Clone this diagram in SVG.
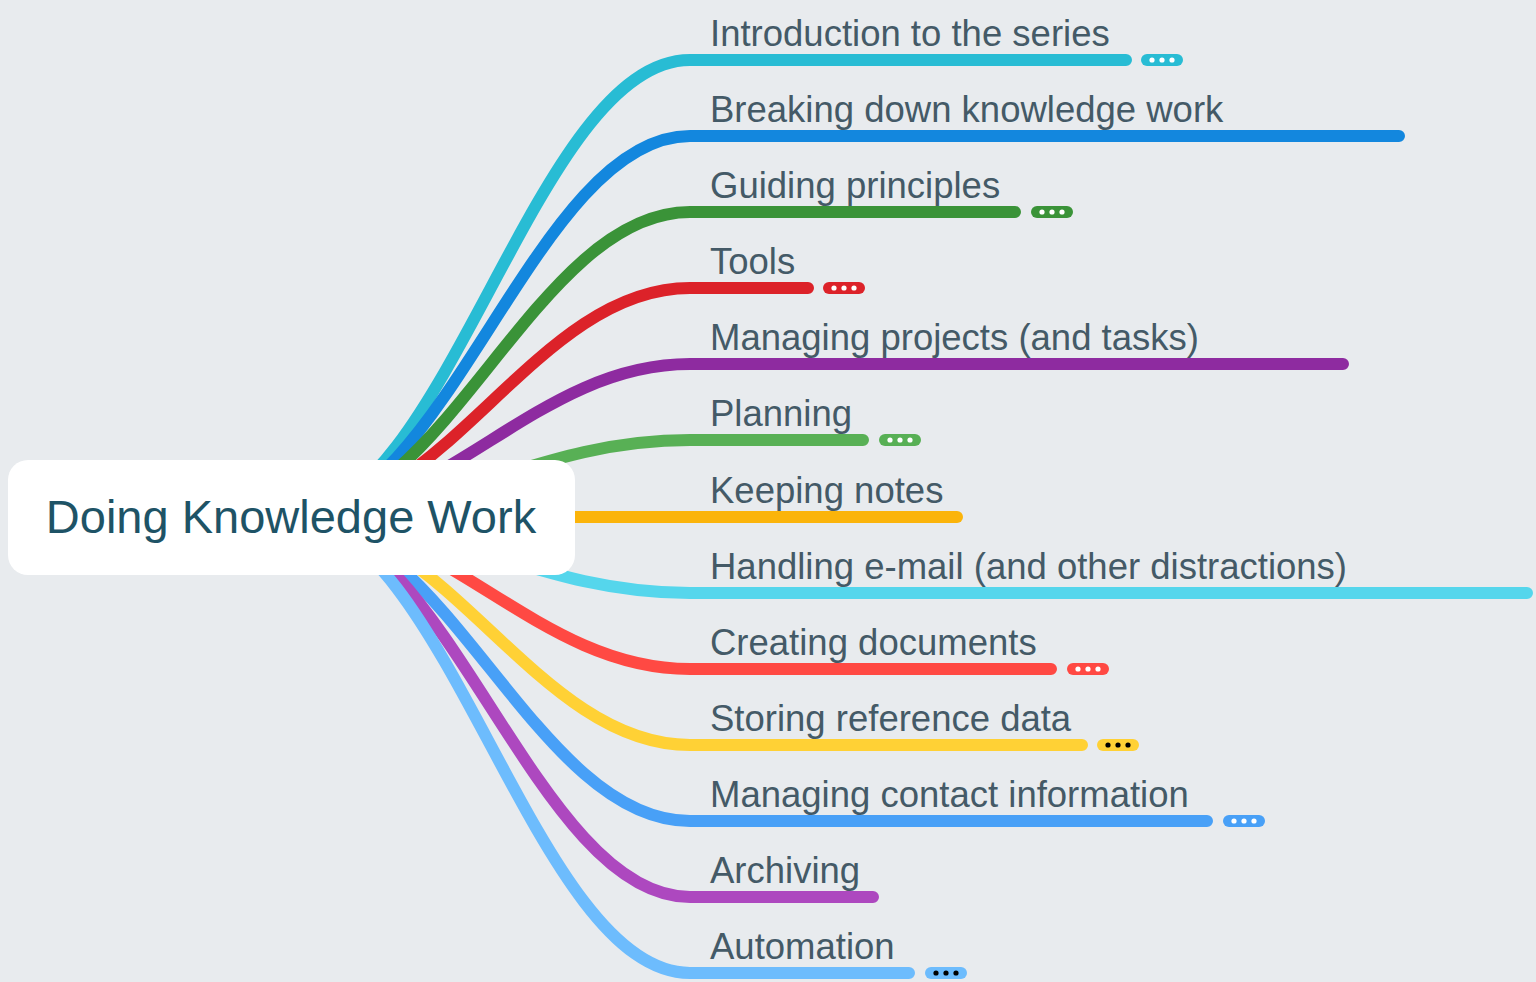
<svg xmlns="http://www.w3.org/2000/svg" width="1536" height="982" viewBox="0 0 1536 982">
<style>
.br{fill:none;stroke-width:12;stroke-linecap:round;stroke-linejoin:round}
.lbl{font-family:"Liberation Sans",Arial,sans-serif;font-size:36.5px;fill:#445a67}
.root{font-family:"Liberation Sans",Arial,sans-serif;font-size:47px;fill:#1e5366}
.dw{fill:#ffffff}
.dk{fill:#000000}
</style>
<rect x="0" y="0" width="1536" height="982" fill="#e8ebee"/>
<g id="connectors">
<path class="br" stroke="#28bcd4" d="M291 517 C446 517 535 60 690 60 L1126 60"/>
<path class="br" stroke="#1387de" d="M291 517 C446 517 535 136 690 136 L1399 136"/>
<path class="br" stroke="#3a9338" d="M291 517 C446 517 535 212 690 212 L1015 212"/>
<path class="br" stroke="#dc2229" d="M291 517 C446 517 535 288 690 288 L808 288"/>
<path class="br" stroke="#8e2ba0" d="M291 517 C446 517 535 364 690 364 L1343 364"/>
<path class="br" stroke="#58b055" d="M291 517 C446 517 535 440 690 440 L863 440"/>
<path class="br" stroke="#fbb40a" d="M291 517 L957 517"/>
<path class="br" stroke="#55d6ec" d="M291 517 C446 517 535 593 690 593 L1527 593"/>
<path class="br" stroke="#ff4943" d="M291 517 C446 517 535 669 690 669 L1051 669"/>
<path class="br" stroke="#ffd135" d="M291 517 C446 517 535 745 690 745 L1082 745"/>
<path class="br" stroke="#48a0f7" d="M291 517 C446 517 535 821 690 821 L1207 821"/>
<path class="br" stroke="#ad48bf" d="M291 517 C446 517 535 897 690 897 L873 897"/>
<path class="br" stroke="#6dbcfd" d="M291 517 C446 517 535 973 690 973 L909 973"/>
</g>
<g id="root">
<rect x="8" y="460" width="567" height="115" rx="20" fill="#ffffff"/>
<text class="root" x="291" y="533" text-anchor="middle">Doing Knowledge Work</text>
</g>
<g id="n1">
<text class="lbl" x="710" y="46">Introduction to the series</text>
<rect x="1141" y="54" width="42" height="12" rx="6" fill="#28bcd4"/>
<circle class="dw" cx="1152" cy="60" r="2.6"/><circle class="dw" cx="1162" cy="60" r="2.6"/><circle class="dw" cx="1172" cy="60" r="2.6"/>
</g>
<g id="n2">
<text class="lbl" x="710" y="122">Breaking down knowledge work</text>
</g>
<g id="n3">
<text class="lbl" x="710" y="198">Guiding principles</text>
<rect x="1031" y="206" width="42" height="12" rx="6" fill="#3a9338"/>
<circle class="dw" cx="1042" cy="212" r="2.6"/><circle class="dw" cx="1052" cy="212" r="2.6"/><circle class="dw" cx="1062" cy="212" r="2.6"/>
</g>
<g id="n4">
<text class="lbl" x="710" y="274">Tools</text>
<rect x="823" y="282" width="42" height="12" rx="6" fill="#dc2229"/>
<circle class="dw" cx="834" cy="288" r="2.6"/><circle class="dw" cx="844" cy="288" r="2.6"/><circle class="dw" cx="854" cy="288" r="2.6"/>
</g>
<g id="n5">
<text class="lbl" x="710" y="350">Managing projects (and tasks)</text>
</g>
<g id="n6">
<text class="lbl" x="710" y="426">Planning</text>
<rect x="879" y="434" width="42" height="12" rx="6" fill="#58b055"/>
<circle class="dw" cx="890" cy="440" r="2.6"/><circle class="dw" cx="900" cy="440" r="2.6"/><circle class="dw" cx="910" cy="440" r="2.6"/>
</g>
<g id="n7">
<text class="lbl" x="710" y="503">Keeping notes</text>
</g>
<g id="n8">
<text class="lbl" x="710" y="579">Handling e-mail (and other distractions)</text>
</g>
<g id="n9">
<text class="lbl" x="710" y="655">Creating documents</text>
<rect x="1067" y="663" width="42" height="12" rx="6" fill="#ff4943"/>
<circle class="dw" cx="1078" cy="669" r="2.6"/><circle class="dw" cx="1088" cy="669" r="2.6"/><circle class="dw" cx="1098" cy="669" r="2.6"/>
</g>
<g id="n10">
<text class="lbl" x="710" y="731">Storing reference data</text>
<rect x="1097" y="739" width="42" height="12" rx="6" fill="#ffd135"/>
<circle class="dk" cx="1108" cy="745" r="2.6"/><circle class="dk" cx="1118" cy="745" r="2.6"/><circle class="dk" cx="1128" cy="745" r="2.6"/>
</g>
<g id="n11">
<text class="lbl" x="710" y="807">Managing contact information</text>
<rect x="1223" y="815" width="42" height="12" rx="6" fill="#48a0f7"/>
<circle class="dw" cx="1234" cy="821" r="2.6"/><circle class="dw" cx="1244" cy="821" r="2.6"/><circle class="dw" cx="1254" cy="821" r="2.6"/>
</g>
<g id="n12">
<text class="lbl" x="710" y="883">Archiving</text>
</g>
<g id="n13">
<text class="lbl" x="710" y="959">Automation</text>
<rect x="925" y="967" width="42" height="12" rx="6" fill="#6dbcfd"/>
<circle class="dk" cx="936" cy="973" r="2.6"/><circle class="dk" cx="946" cy="973" r="2.6"/><circle class="dk" cx="956" cy="973" r="2.6"/>
</g>
</svg>
